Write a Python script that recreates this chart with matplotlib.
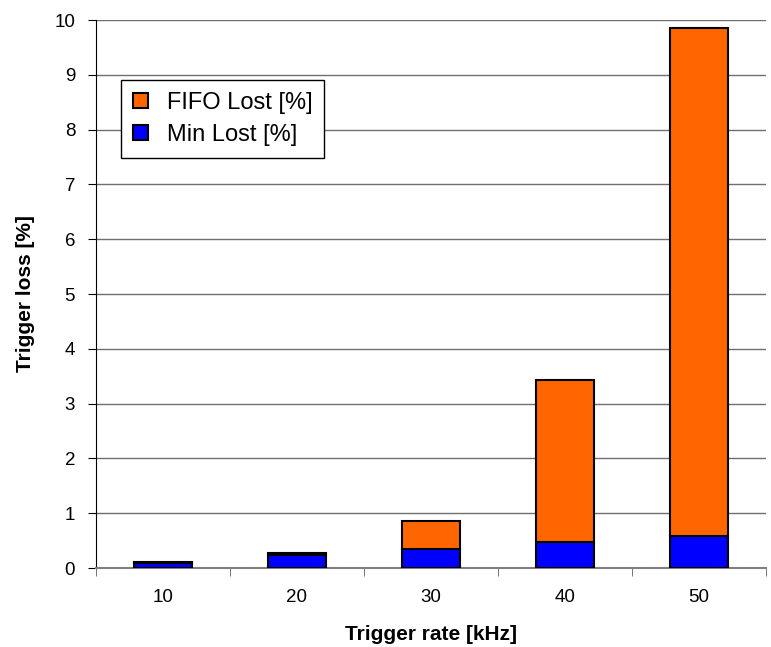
import matplotlib
matplotlib.use("Agg")
import matplotlib.pyplot as plt
import numpy as np

rates = ["10", "20", "30", "40", "50"]
min_lost = [0.10, 0.24, 0.34, 0.48, 0.58]
fifo_lost = [0.01, 0.04, 0.52, 2.95, 9.27]

plt.rcParams["font.family"] = ["Liberation Sans", "DejaVu Sans"]

fig = plt.figure(figsize=(7.71, 6.47), dpi=100)
ax = fig.add_axes([0.1245, 0.122, 0.869, 0.847])

x = np.arange(len(rates))
w = 0.43
ax.bar(x, min_lost, w, color="#0000ff", edgecolor="black", lw=1.5,
       label="Min Lost [%]", zorder=3)
ax.bar(x, fifo_lost, w, bottom=min_lost, color="#ff6600", edgecolor="black",
       lw=1.5, label="FIFO Lost [%]", zorder=3)

ax.set_xlim(-0.5, len(rates) - 0.5)
ax.set_ylim(0, 10)
ax.set_yticks(range(0, 11))
ax.yaxis.grid(True, color="#707070", lw=1.0, zorder=0)
ax.set_xticks(x)
ax.set_xticklabels(rates)
ax.set_xticks(np.arange(-0.5, len(rates)), minor=True)
ax.tick_params(axis="x", which="major", length=0, pad=15, labelsize=13.5)
ax.tick_params(axis="x", which="minor", length=6, direction="out", color="#606060")
ax.tick_params(axis="y", length=6, direction="out", labelsize=13.5, pad=9)
for s in ("top", "right"):
    ax.spines[s].set_visible(False)
ax.spines["bottom"].set_color("#808080")
ax.spines["bottom"].set_linewidth(1.5)

ax.set_xlabel("Trigger rate [kHz]", fontsize=15, fontweight="bold", labelpad=14)
ax.set_ylabel("Trigger loss [%]", fontsize=15, fontweight="bold", labelpad=14)

h, l = ax.get_legend_handles_labels()
leg = ax.legend(h[::-1], l[::-1], loc="upper left", bbox_to_anchor=(0.037, 0.891),
                borderaxespad=0, fontsize=17, frameon=True, fancybox=False,
                edgecolor="black", handlelength=0.65, handleheight=0.6,
                handletextpad=0.8, borderpad=0.5, labelspacing=0.45,
                framealpha=1)
leg.get_frame().set_linewidth(1.0)

fig.savefig("out.png", dpi=100)
